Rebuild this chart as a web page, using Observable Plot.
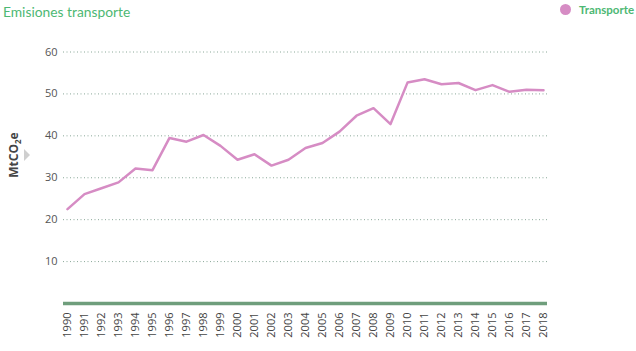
<!DOCTYPE html>
<html>
<head>
<meta charset="utf-8">
<script src="https://cdn.jsdelivr.net/npm/d3@7"></script>
<script src="https://cdn.jsdelivr.net/npm/@observablehq/plot@0.6"></script>
<style>
  html, body { margin: 0; padding: 0; background: #fff; }
  #wrap { position: relative; width: 636px; height: 351px; font-family: "Open Sans", sans-serif; }
  #title { position: absolute; left: 3px; top: 3px; font-family: Lato, sans-serif; font-size: 13.8px; color: #4db873; }
  #legend { position: absolute; left: 560px; top: 3px; font-family: Lato, sans-serif; font-size: 11.5px; font-weight: bold; color: #4db873; display: flex; align-items: center; }
  #legend .dot { width: 11px; height: 11px; border-radius: 50%; background: #d68cc4; margin-right: 8px; }
  #ylabel { position: absolute; left: 14px; top: 155px; transform: translate(-50%, -50%) rotate(-90deg); font-size: 12px; font-weight: bold; color: #444; white-space: nowrap; }
  #ylabel sub { font-size: 8px; }
  #arrow { position: absolute; left: 24px; top: 149px; width: 0; height: 0; border-top: 6px solid transparent; border-bottom: 6px solid transparent; border-left: 6px solid #cfcfcf; }
  #chart { position: absolute; left: 0; top: 0; }
</style>
</head>
<body>
<div id="wrap">
  <div id="chart"></div>
  <div id="title">Emisiones transporte</div>
  <div id="legend"><span class="dot"></span>Transporte</div>
  <div id="ylabel">MtCO<sub>2</sub>e</div>
  <div id="arrow"></div>
</div>
<script>
const years = [1990,1991,1992,1993,1994,1995,1996,1997,1998,1999,2000,2001,2002,2003,2004,2005,2006,2007,2008,2009,2010,2011,2012,2013,2014,2015,2016,2017,2018];
const transporte = [22.5,26.1,27.5,28.9,32.2,31.8,39.5,38.6,40.2,37.6,34.3,35.6,32.9,34.3,37.1,38.3,41.0,44.8,46.6,42.8,52.7,53.5,52.3,52.6,50.9,52.1,50.5,51.0,50.9];
const yTicks = [10,20,30,40,50,60];

const data = years.map((y, i) => ({year: String(y), value: transporte[i]}));

const chart = Plot.plot({
  width: 636,
  height: 351,
  marginLeft: 63,
  marginRight: 89,
  marginTop: 51.5,
  marginBottom: 48,
  style: {fontFamily: "Open Sans, sans-serif", fontSize: "11px", color: "#555", background: "transparent"},
  x: {type: "point", domain: years.map(String), padding: 0.235, label: null},
  y: {domain: [0, 60], label: null},
  marks: [
    Plot.gridY(yTicks, {stroke: "#8aa898", strokeOpacity: 1, strokeDasharray: "1,2.5", strokeWidth: 1}),
    Plot.axisY(yTicks, {tickSize: 0, tickPadding: 6, fill: "#555", fontSize: 11, label: null}),
    Plot.axisX({tickSize: 0, tickPadding: 9, tickRotate: -90, fill: "#444", fontSize: 11, label: null}),
    Plot.ruleY([0], {stroke: "#6f9e7c", strokeWidth: 3.5}),
    Plot.line(data, {x: "year", y: "value", stroke: "#d68cc4", strokeWidth: 2.5, strokeLinejoin: "round"})
  ]
});
document.getElementById("chart").appendChild(chart);
</script>
</body>
</html>
